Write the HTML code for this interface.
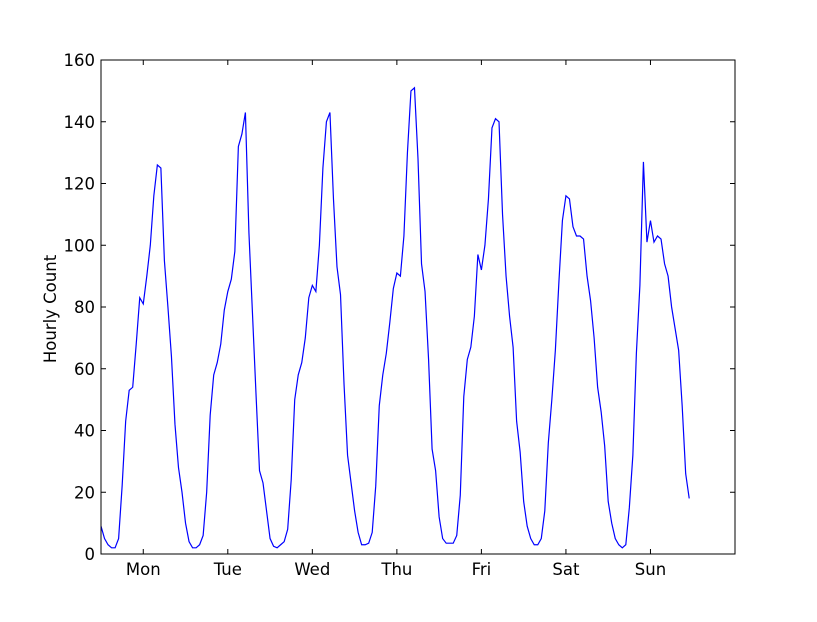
<!DOCTYPE html>
<html><head><meta charset="utf-8"><style>
body{margin:0;background:#fff;width:817px;height:617px;overflow:hidden}
svg text{font-family:"DejaVu Sans","Liberation Sans",sans-serif;font-size:16.5px;fill:#000}
</style></head><body>
<svg id="chart" width="817" height="617"></svg>
<script>
const dayLabels=["Mon","Tue","Wed","Thu","Fri","Sat","Sun"];
const dayTickHours=[12,36,60,84,108,132,156];
const yTicks=[0,20,40,60,80,100,120,140,160];
const mon=[9,5,3,2,2,5,22,43,53,54,68,83,81,90,100,116,126,125,95,80,64,42,28,20];
const tue=[10,4,2,2,3,6,20,45,58,62,68,79,85,89,98,132,136,143,104,78,52,27,23,14];
const wed=[5,2.5,2,3,4,8,24,50,58,62,70,83,87,85,100,125,140,143,115,93,84,55,32,23];
const thu=[14,7,3,3,3.5,7,22,48,58,65,75,86,91,90,103,130,150,151,128,94,85,63,34,27];
const fri=[12,5,3.5,3.5,3.5,6,19,51,63,67,77,97,92,100,115,138,141,140,110,90,77,67,43,33];
const sat=[17,9,5,3,3,5,14,36,50,66,88,108,116,115,106,103,103,102,90,82,70,54,46,35];
const sun=[17,10,5,3,2,3,15,32,65,87,127,101,108,101,103,102,94,90,80,73,66,48,26,18];
const counts=[].concat(mon,tue,wed,thu,fri,sat,sun);

const L=101,R=735,T=60,B=554,XMAX=180,YMAX=160;
const xs=h=>L+h/XMAX*(R-L);
const ys=v=>B-v/YMAX*(B-T);
const NS="http://www.w3.org/2000/svg";
const svg=document.getElementById('chart');
function mk(tag,attrs){const e=document.createElementNS(NS,tag);for(const k in attrs)e.setAttribute(k,attrs[k]);svg.appendChild(e);return e;}

let d=counts.map((v,i)=>(i?'L':'M')+xs(i).toFixed(2)+' '+ys(v).toFixed(2)).join(' ');
const line=mk('path',{d:d,fill:'none',stroke:'#0000ff','stroke-width':1.2});



const frame=mk('rect',{x:L,y:T,width:R-L,height:B-T,fill:'none',stroke:'#000','stroke-width':1});



yTicks.forEach(v=>{
  const y=ys(v);
  mk('line',{x1:L,x2:L+5,y1:y,y2:y,stroke:'#000'});
  mk('line',{x1:R,x2:R-5,y1:y,y2:y,stroke:'#000'});
  const t=mk('text',{x:L-6,y:y+6,'text-anchor':'end'});
  t.textContent=v;
  
  
});
dayTickHours.forEach((h,i)=>{
  const x=xs(h);
  mk('line',{x1:x,x2:x,y1:B,y2:B-5,stroke:'#000'});
  mk('line',{x1:x,x2:x,y1:T,y2:T+5,stroke:'#000'});
  const t=mk('text',{x:x,y:B+21,'text-anchor':'middle'});
  t.textContent=dayLabels[i];
  
  
});
const yl=mk('text',{x:0,y:0,'text-anchor':'middle',transform:'translate(56,309) rotate(-90)'});
yl.textContent='Hourly Count';


</script>
</body></html>
